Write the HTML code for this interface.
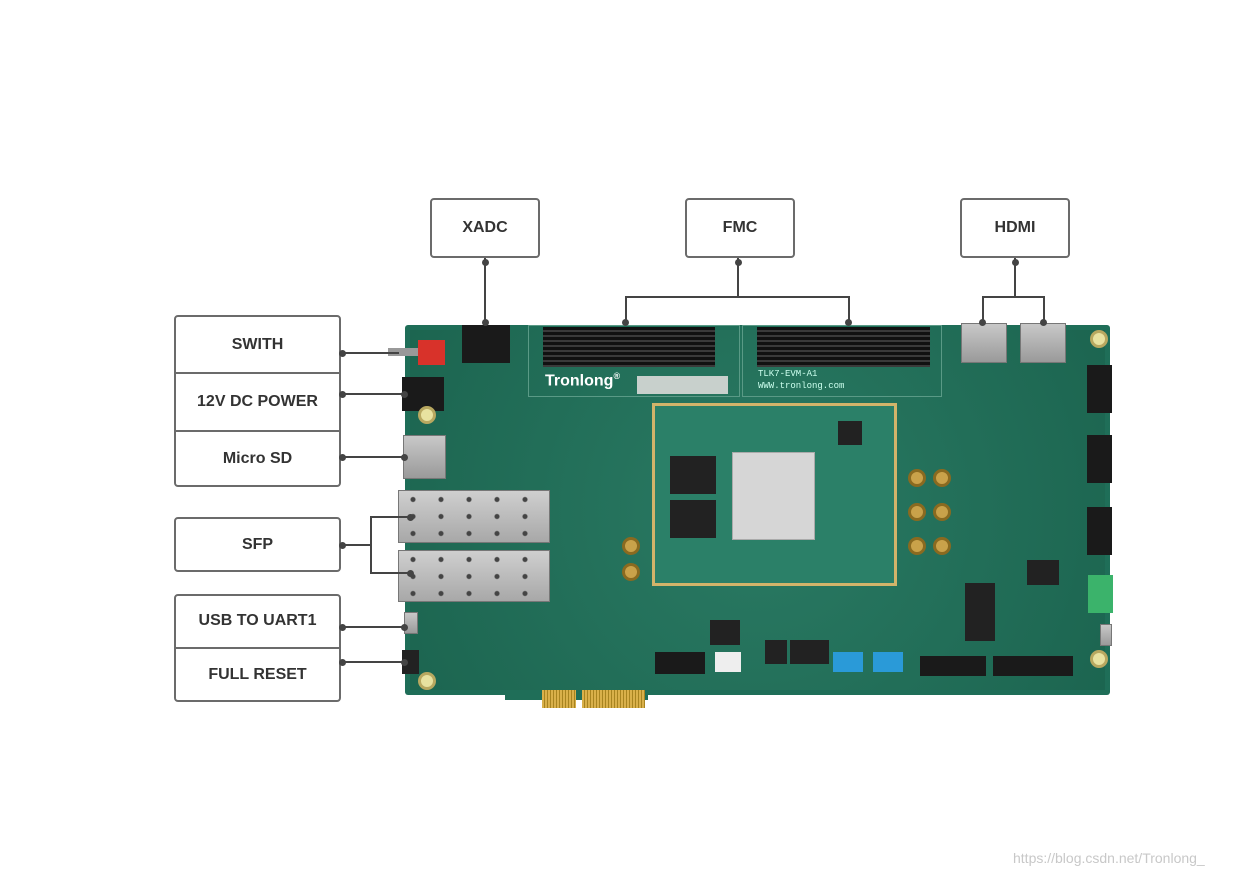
<!DOCTYPE html>
<html><head><meta charset="utf-8"><style>
body{margin:0;width:1240px;height:877px;background:#fff;position:relative;overflow:hidden;font-family:"Liberation Sans",sans-serif}
div{position:absolute;box-sizing:border-box}
.box{border:2px solid #6b6b6b;border-radius:4px;background:#fff;color:#333;font-weight:bold;font-size:16px;display:flex;align-items:center;justify-content:center}
.ln{background:#444}
.dot{width:7px;height:7px;border-radius:50%;background:#444}
.g{background:#1f6e58}
.blk{background:#1a1a1a}
.sil{background:linear-gradient(#c8c8c8,#9a9a9a);border:1px solid #777}
.sma{width:18px;height:18px;border-radius:50%;background:#c9a24a;border:3px solid #8a6a20}
.hole{width:18px;height:18px;border-radius:50%;background:#e8e2a0;border:3px solid #b8a860}
.chip{background:#222}
</style></head><body>
<!-- board -->
<div class="g" style="left:405px;top:325px;width:705px;height:370px;border-radius:3px"></div>
<div class="g" style="left:505px;top:680px;width:143px;height:20px"></div>
<div style="left:542px;top:690px;width:34px;height:18px;background:repeating-linear-gradient(90deg,#d9b04a 0 2px,#a88420 2px 3px)"></div>
<div style="left:582px;top:690px;width:63px;height:18px;background:repeating-linear-gradient(90deg,#d9b04a 0 2px,#a88420 2px 3px)"></div>
<div style="left:410px;top:330px;width:695px;height:360px;background:radial-gradient(circle at 50% 50%,#2a7a63,#1c6550)"></div>
<!-- FMC -->
<div style="left:528px;top:325px;width:212px;height:72px;border:1px solid #5a9a86"></div>
<div style="left:742px;top:325px;width:200px;height:72px;border:1px solid #5a9a86"></div>
<div class="blk" style="left:543px;top:327px;width:172px;height:40px;background:repeating-linear-gradient(#111 0 3px,#3a3a3a 3px 5px)"></div>
<div class="blk" style="left:757px;top:327px;width:173px;height:40px;background:repeating-linear-gradient(#111 0 3px,#3a3a3a 3px 5px)"></div>
<div style="left:545px;top:371px;color:#fff;font-weight:bold;font-size:16px">Tronlong<sup style="font-size:9px">®</sup></div>
<div style="left:637px;top:376px;width:91px;height:18px;background:#c8d0cc"></div>
<div style="left:758px;top:368px;color:#cfe;font-size:9px;font-family:'Liberation Mono',monospace;line-height:12px">TLK7-EVM-A1<br>WWW.tronlong.com</div>
<!-- XADC header -->
<div class="blk" style="left:462px;top:325px;width:48px;height:38px"></div>
<!-- HDMI -->
<div class="sil" style="left:961px;top:323px;width:46px;height:40px"></div>
<div class="sil" style="left:1020px;top:323px;width:46px;height:40px"></div>
<!-- switch, dc, sd -->
<div style="left:418px;top:340px;width:27px;height:25px;background:#d8322a"></div>
<div class="ln" style="left:388px;top:348px;width:30px;height:8px;background:#999"></div>
<div class="blk" style="left:402px;top:377px;width:42px;height:34px"></div>
<div class="sil" style="left:403px;top:435px;width:43px;height:44px"></div>
<!-- SFP -->
<div class="sil" style="left:398px;top:490px;width:152px;height:53px;background:radial-gradient(circle,#444 2px,transparent 3px) 0 0/28px 17px,linear-gradient(#cfcfcf,#a8a8a8)"></div>
<div class="sil" style="left:398px;top:550px;width:152px;height:52px;background:radial-gradient(circle,#444 2px,transparent 3px) 0 0/28px 17px,linear-gradient(#cfcfcf,#a8a8a8)"></div>
<!-- module -->
<div style="left:652px;top:403px;width:245px;height:183px;border:3px solid #d2b46a;background:#2b8068"></div>
<div style="left:732px;top:452px;width:83px;height:88px;background:#d6d6d6;border:1px solid #aaa"></div>
<div class="chip" style="left:670px;top:456px;width:46px;height:38px"></div>
<div class="chip" style="left:670px;top:500px;width:46px;height:38px"></div>
<div class="chip" style="left:838px;top:421px;width:24px;height:24px"></div>
<!-- SMA -->
<div class="sma" style="left:908px;top:469px"></div><div class="sma" style="left:933px;top:469px"></div>
<div class="sma" style="left:908px;top:503px"></div><div class="sma" style="left:933px;top:503px"></div>
<div class="sma" style="left:908px;top:537px"></div><div class="sma" style="left:933px;top:537px"></div>
<div class="sma" style="left:622px;top:537px"></div><div class="sma" style="left:622px;top:563px"></div>
<!-- right headers -->
<div class="blk" style="left:1087px;top:365px;width:25px;height:48px"></div>
<div class="blk" style="left:1087px;top:435px;width:25px;height:48px"></div>
<div class="blk" style="left:1087px;top:507px;width:25px;height:48px"></div>
<div style="left:1088px;top:575px;width:25px;height:38px;background:#3bb36b"></div>
<div class="chip" style="left:965px;top:583px;width:30px;height:58px"></div>
<div class="chip" style="left:1027px;top:560px;width:32px;height:25px"></div>
<div class="chip" style="left:985px;top:640px;width:0;height:0"></div>
<!-- bottom -->
<div class="blk" style="left:655px;top:652px;width:50px;height:22px"></div>
<div style="left:715px;top:652px;width:26px;height:20px;background:#eee"></div>
<div class="chip" style="left:710px;top:620px;width:30px;height:25px"></div>
<div class="chip" style="left:765px;top:640px;width:22px;height:24px"></div>
<div class="chip" style="left:790px;top:640px;width:22px;height:24px"></div>
<div class="chip" style="left:807px;top:640px;width:22px;height:24px"></div>
<div style="left:833px;top:652px;width:30px;height:20px;background:#2a9ad8"></div>
<div style="left:873px;top:652px;width:30px;height:20px;background:#2a9ad8"></div>
<div class="blk" style="left:920px;top:656px;width:66px;height:20px"></div>
<div class="blk" style="left:993px;top:656px;width:80px;height:20px"></div>
<div class="chip" style="left:402px;top:650px;width:17px;height:24px"></div>
<div class="sil" style="left:404px;top:612px;width:14px;height:22px"></div>
<div class="sil" style="left:1100px;top:624px;width:12px;height:22px"></div>
<div class="hole" style="left:418px;top:406px"></div><div class="hole" style="left:418px;top:672px"></div>
<div class="hole" style="left:1090px;top:330px"></div><div class="hole" style="left:1090px;top:650px"></div>

<!-- top boxes -->
<div class="box" style="left:430px;top:198px;width:110px;height:60px">XADC</div>
<div class="box" style="left:685px;top:198px;width:110px;height:60px">FMC</div>
<div class="box" style="left:960px;top:198px;width:110px;height:60px">HDMI</div>
<div class="ln" style="left:484px;top:258px;width:2px;height:64px"></div>
<div class="dot" style="left:482px;top:259px"></div><div class="dot" style="left:482px;top:319px"></div>
<div class="ln" style="left:737px;top:258px;width:2px;height:40px"></div>
<div class="dot" style="left:735px;top:259px"></div>
<div class="ln" style="left:625px;top:296px;width:225px;height:2px"></div>
<div class="ln" style="left:625px;top:296px;width:2px;height:26px"></div>
<div class="ln" style="left:848px;top:296px;width:2px;height:26px"></div>
<div class="dot" style="left:622px;top:319px"></div><div class="dot" style="left:845px;top:319px"></div>
<div class="ln" style="left:1014px;top:258px;width:2px;height:40px"></div>
<div class="dot" style="left:1012px;top:259px"></div>
<div class="ln" style="left:982px;top:296px;width:63px;height:2px"></div>
<div class="ln" style="left:982px;top:296px;width:2px;height:26px"></div>
<div class="ln" style="left:1043px;top:296px;width:2px;height:26px"></div>
<div class="dot" style="left:979px;top:319px"></div><div class="dot" style="left:1040px;top:319px"></div>

<!-- left boxes -->
<div class="box" style="left:174px;top:315px;width:167px;height:172px;display:block"></div>
<div class="box" style="left:174px;top:315px;width:167px;height:59px;border:none;background:transparent">SWITH</div>
<div class="ln" style="left:175px;top:372px;width:165px;height:2px;background:#6b6b6b"></div>
<div class="box" style="left:174px;top:373px;width:167px;height:58px;border:none;background:transparent">12V DC POWER</div>
<div class="ln" style="left:175px;top:430px;width:165px;height:2px;background:#6b6b6b"></div>
<div class="box" style="left:174px;top:431px;width:167px;height:56px;border:none;background:transparent">Micro SD</div>
<div class="box" style="left:174px;top:517px;width:167px;height:55px">SFP</div>
<div class="box" style="left:174px;top:594px;width:167px;height:108px;display:block"></div>
<div class="box" style="left:174px;top:594px;width:167px;height:54px;border:none;background:transparent">USB TO UART1</div>
<div class="ln" style="left:175px;top:647px;width:165px;height:2px;background:#6b6b6b"></div>
<div class="box" style="left:174px;top:648px;width:167px;height:54px;border:none;background:transparent">FULL RESET</div>

<div class="ln" style="left:341px;top:352px;width:58px;height:2px"></div><div class="dot" style="left:339px;top:350px"></div>
<div class="ln" style="left:341px;top:393px;width:64px;height:2px"></div><div class="dot" style="left:339px;top:391px"></div><div class="dot" style="left:401px;top:391px"></div>
<div class="ln" style="left:341px;top:456px;width:64px;height:2px"></div><div class="dot" style="left:339px;top:454px"></div><div class="dot" style="left:401px;top:454px"></div>
<div class="ln" style="left:341px;top:544px;width:31px;height:2px"></div><div class="dot" style="left:339px;top:542px"></div>
<div class="ln" style="left:370px;top:516px;width:2px;height:58px"></div>
<div class="ln" style="left:370px;top:516px;width:40px;height:2px"></div>
<div class="ln" style="left:370px;top:572px;width:40px;height:2px"></div>
<div class="dot" style="left:407px;top:514px"></div><div class="dot" style="left:407px;top:570px"></div>
<div class="ln" style="left:341px;top:626px;width:64px;height:2px"></div><div class="dot" style="left:339px;top:624px"></div><div class="dot" style="left:401px;top:624px"></div>
<div class="ln" style="left:341px;top:661px;width:64px;height:2px"></div><div class="dot" style="left:339px;top:659px"></div><div class="dot" style="left:401px;top:659px"></div>

<div style="left:1013px;top:850px;color:#c8c8c8;font-size:14px">https://blog.csdn.net/Tronlong_</div>
</body></html>
